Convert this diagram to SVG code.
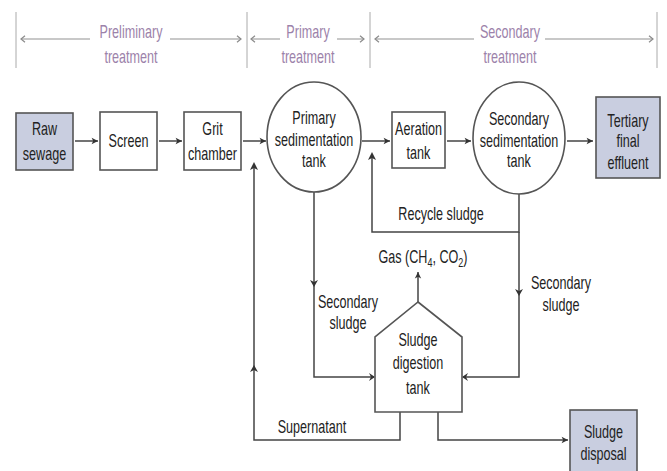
<svg xmlns="http://www.w3.org/2000/svg" width="667" height="471" viewBox="0 0 667 471">
<defs>
<marker id="ah" viewBox="0 0 10 10" refX="9" refY="5" markerWidth="8" markerHeight="8" orient="auto" markerUnits="userSpaceOnUse">
<path d="M1,1 L9,5 L1,9 L3,5 Z" fill="#333"/>
</marker>
<marker id="hg" viewBox="0 0 10 10" refX="9" refY="5" markerWidth="8" markerHeight="9" orient="auto-start-reverse" markerUnits="userSpaceOnUse">
<path d="M4,1 L9,5 L4,9" fill="none" stroke="#8a8a8a" stroke-width="1.5"/>
</marker>
<style>
.t{font-family:"Liberation Sans",Arial,sans-serif;font-size:14px;fill:#222;text-anchor:middle}
.h{font-family:"Liberation Sans",Arial,sans-serif;font-size:14px;fill:#9c82aa;text-anchor:middle}
.box{fill:#fff;stroke:#555;stroke-width:1.6}
.fb{fill:#c9cee0;stroke:#555;stroke-width:1.6}
.c{fill:none;stroke:#444;stroke-width:1.5}
.a{fill:none;stroke:#444;stroke-width:1.5;marker-end:url(#ah)}
.bar{stroke:#aaa;stroke-width:1}
.hl{stroke:#c8c8c8;stroke-width:2;fill:none}
</style>
</defs>
<rect width="667" height="471" fill="#fff"/>
<g id="header">
<line class="bar" x1="16" y1="12" x2="16" y2="68"/>
<line class="bar" x1="247" y1="12" x2="247" y2="68"/>
<line class="bar" x1="370" y1="12" x2="370" y2="68"/>
<line class="bar" x1="657" y1="12" x2="657" y2="68"/>
<line class="hl" x1="21" y1="39" x2="90" y2="39" marker-start="url(#hg)"/>
<line class="hl" x1="170" y1="39" x2="241" y2="39" marker-end="url(#hg)"/>
<line class="hl" x1="251" y1="39" x2="280" y2="39" marker-start="url(#hg)"/>
<line class="hl" x1="337" y1="39" x2="364" y2="39" marker-end="url(#hg)"/>
<line class="hl" x1="375" y1="39" x2="474" y2="39" marker-start="url(#hg)"/>
<line class="hl" x1="545" y1="39" x2="653" y2="39" marker-end="url(#hg)"/>
<text class="h" transform="translate(131,38) scale(0.9,1.3)">Preliminary</text>
<text class="h" transform="translate(131,63) scale(0.9,1.3)">treatment</text>
<text class="h" transform="translate(308,38) scale(0.9,1.3)">Primary</text>
<text class="h" transform="translate(308,63) scale(0.9,1.3)">treatment</text>
<text class="h" transform="translate(510,38) scale(0.9,1.3)">Secondary</text>
<text class="h" transform="translate(510,63) scale(0.9,1.3)">treatment</text>
</g>
<g id="connectors">
<line class="a" x1="75" y1="141" x2="98" y2="141"/>
<line class="a" x1="159" y1="141" x2="182" y2="141"/>
<line class="a" x1="243" y1="141" x2="266" y2="141"/>
<line class="a" x1="362" y1="141" x2="390" y2="141"/>
<line class="a" x1="447" y1="141" x2="471" y2="141"/>
<line class="a" x1="567" y1="141" x2="593" y2="141"/>
<polyline class="c" points="519,194 519,232 372,232 372,156"/>
<path d="M368,160 L372,152 L376,160 L372,158 Z" fill="#333"/>
<polyline class="c" points="519,232 519,377 463,377"/>
<path d="M468,373 L462,377 L468,381 L466,377 Z" fill="#333"/>
<path d="M515,289 L519,296 L523,289 L519,291 Z" fill="#333"/>
<polyline class="c" points="314,192 314,377 374,377"/>
<path d="M369,373 L375,377 L369,381 L371,377 Z" fill="#333"/>
<path d="M310,280 L314,287 L318,280 L314,282 Z" fill="#333"/>
<line class="a" x1="418" y1="302" x2="418" y2="272"/>
<polyline class="c" points="400,412 400,440 254,440 254,166"/>
<path d="M250,170 L254,162 L258,170 L254,168 Z" fill="#333"/>
<path d="M250,372 L254,365 L258,372 L254,370 Z" fill="#333"/>
<polyline class="a" points="438,412 438,440 568,440"/>
</g>
<g id="raw-sewage">
<rect class="fb" x="16" y="113" width="57" height="57"/>
<text class="t" transform="translate(44.5,135) scale(0.9,1.3)">Raw</text>
<text class="t" transform="translate(44.5,160) scale(0.9,1.3)">sewage</text>
</g>
<g id="screen">
<rect class="box" x="100" y="112" width="57" height="58"/>
<text class="t" transform="translate(128.5,147) scale(0.9,1.3)">Screen</text>
</g>
<g id="grit-chamber">
<rect class="box" x="184" y="112" width="57" height="58"/>
<text class="t" transform="translate(212.5,135) scale(0.9,1.3)">Grit</text>
<text class="t" transform="translate(212.5,160) scale(0.9,1.3)">chamber</text>
</g>
<g id="primary-sedimentation">
<ellipse class="box" cx="314" cy="137" rx="47" ry="55"/>
<text class="t" transform="translate(314,124) scale(0.9,1.3)">Primary</text>
<text class="t" transform="translate(314,146) scale(0.9,1.3)">sedimentation</text>
<text class="t" transform="translate(314,167) scale(0.9,1.3)">tank</text>
</g>
<g id="aeration-tank">
<rect class="box" x="392" y="112" width="53" height="56"/>
<text class="t" transform="translate(418.5,135) scale(0.9,1.3)">Aeration</text>
<text class="t" transform="translate(418.5,159) scale(0.9,1.3)">tank</text>
</g>
<g id="secondary-sedimentation">
<ellipse class="box" cx="519" cy="138" rx="46" ry="56"/>
<text class="t" transform="translate(519,125) scale(0.9,1.3)">Secondary</text>
<text class="t" transform="translate(519,147) scale(0.9,1.3)">sedimentation</text>
<text class="t" transform="translate(519,167) scale(0.9,1.3)">tank</text>
</g>
<g id="tertiary">
<rect class="fb" x="596" y="97" width="64" height="81"/>
<text class="t" transform="translate(628,127) scale(0.9,1.3)">Tertiary</text>
<text class="t" transform="translate(628,147) scale(0.9,1.3)">final</text>
<text class="t" transform="translate(628,169) scale(0.9,1.3)">effluent</text>
</g>
<g id="sludge-digestion">
<polygon class="box" points="418,302 462,337 462,412 375,412 375,337"/>
<text class="t" transform="translate(418,346) scale(0.9,1.3)">Sludge</text>
<text class="t" transform="translate(418,369) scale(0.9,1.3)">digestion</text>
<text class="t" transform="translate(418,394) scale(0.9,1.3)">tank</text>
</g>
<g id="sludge-disposal">
<rect class="fb" x="570" y="410" width="67" height="62"/>
<text class="t" transform="translate(603.5,438) scale(0.9,1.3)">Sludge</text>
<text class="t" transform="translate(603.5,460) scale(0.9,1.3)">disposal</text>
</g>
<g id="labels">
<text class="t" transform="translate(441,220) scale(0.9,1.3)">Recycle sludge</text>
<text class="t" transform="translate(423,263) scale(0.9,1.3)">Gas (CH<tspan font-size="10" dy="3">4</tspan><tspan dy="-3">, CO</tspan><tspan font-size="10" dy="3">2</tspan><tspan dy="-3">)</tspan></text>
<text class="t" transform="translate(348,308) scale(0.9,1.3)">Secondary</text>
<text class="t" transform="translate(348,329) scale(0.9,1.3)">sludge</text>
<text class="t" transform="translate(561,289) scale(0.9,1.3)">Secondary</text>
<text class="t" transform="translate(561,311) scale(0.9,1.3)">sludge</text>
<text class="t" transform="translate(312,433) scale(0.9,1.3)">Supernatant</text>
</g>
</svg>
